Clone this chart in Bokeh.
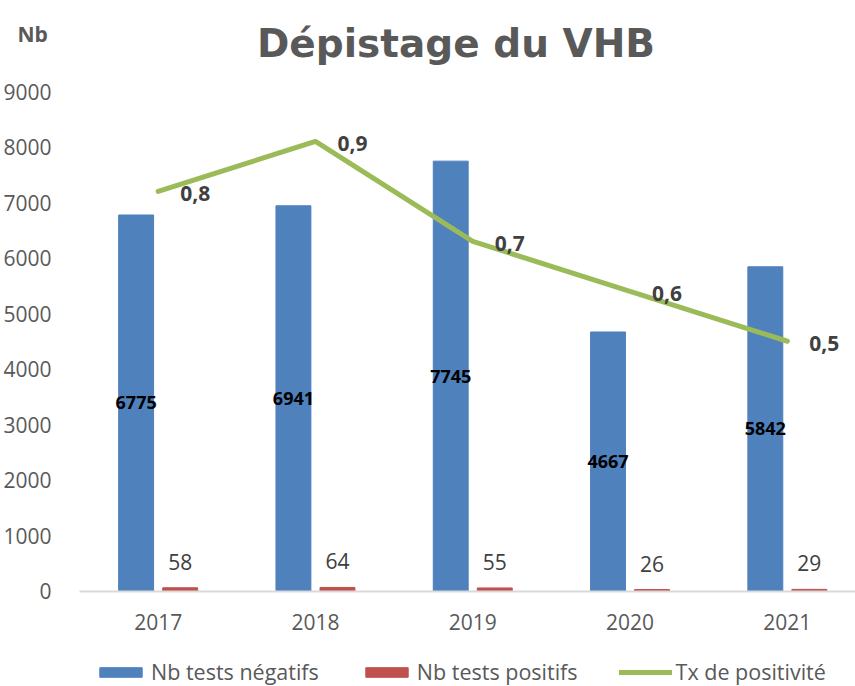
from bokeh.plotting import figure
from bokeh.models import (Range1d, FixedTicker, Label, Legend, LegendItem,
                          ColumnDataSource)
from bokeh.transform import dodge
from bokeh.core.properties import value
from bokeh.embed import file_html
from bokeh.resources import INLINE

# ---------------- data ----------------
years = ["2017", "2018", "2019", "2020", "2021"]
negatifs = [6775, 6941, 7745, 4667, 5842]
positifs = [58, 64, 55, 26, 29]
taux = [0.8, 0.9, 0.7, 0.6, 0.5]
taux_labels = ["0,8", "0,9", "0,7", "0,6", "0,5"]
y_ticks = [0, 1000, 2000, 3000, 4000, 5000, 6000, 7000, 8000, 9000]

# ---------------- layout constants (page pixels) ----------------
W, H = 855, 686
PLOT_LEFT = 79            # left edge of the category area
CAT = 157.3               # px per category
Y0_PX = 590.5             # page y of value 0
Y9_PX = 91                # page y of value 9000
YMAX = 9000
PPU = (Y0_PX - Y9_PX) / YMAX

x_start = -0.5 - PLOT_LEFT / CAT
x_end = -0.5 + (W - PLOT_LEFT) / CAT
y_start = -(H - Y0_PX) / PPU
y_end = Y0_PX / PPU

def xd(page_x):
    return -0.5 + (page_x - PLOT_LEFT) / CAT

def yd(page_y):
    return (Y0_PX - page_y) / PPU

FONT = "Open Sans"
GREY = "#595959"
DARK = "#404040"

src = ColumnDataSource(dict(
    idx=list(range(len(years))),
    neg=negatifs,
    neg_mid=[v / 2 for v in negatifs],
    neg_lbl=[str(v) for v in negatifs],
    pos=positifs,
    pos_lbl=[str(v) for v in positifs],
    taux=taux,
    taux_lbl=taux_labels,
))

p = figure(width=W, height=H, output_backend="svg", toolbar_location=None,
           x_range=Range1d(x_start, x_end), y_range=Range1d(y_start, y_end),
           min_border_left=0, min_border_right=0, min_border_top=0,
           min_border_bottom=0, outline_line_color=None, title=None,
           background_fill_color="white", border_fill_color="white")
p.extra_y_ranges = {"taux": Range1d(y_start / YMAX, y_end / YMAX)}
p.xgrid.visible = False
p.ygrid.visible = False

# x axis (drawn at value 0)
xa = p.xaxis[0]
xa.fixed_location = 0
xa.bounds = (-0.5, x_end)
xa.ticker = FixedTicker(ticks=list(range(len(years))))
xa.major_label_overrides = {i: y for i, y in enumerate(years)}
xa.axis_line_color = "#D9D9D9"
xa.axis_line_width = 2
xa.major_tick_line_color = None
xa.minor_tick_line_color = None
xa.major_label_text_font = FONT
xa.major_label_text_font_size = "21px"
xa.major_label_text_color = GREY
xa.major_label_standoff = 17

# y axis (drawn at left edge of the category area)
ya = p.yaxis[0]
ya.fixed_location = -0.5
ya.ticker = FixedTicker(ticks=y_ticks)
ya.axis_line_color = None
ya.major_tick_line_color = None
ya.minor_tick_line_color = None
ya.major_label_text_font = FONT
ya.major_label_text_font_size = "21px"
ya.major_label_text_color = GREY
ya.major_label_standoff = 22

OFF = 0.14
BW = 0.222

r_neg = p.vbar(x=dodge("idx", -OFF, range=p.x_range), top="neg", width=BW,
               source=src, fill_color="#4F81BD", line_color="#4F81BD")
r_pos = p.vbar(x=dodge("idx", OFF, range=p.x_range), top="pos", width=BW,
               source=src, fill_color="#C0504D", line_color="#C0504D")
r_line = p.line(x="idx", y="taux", source=src, y_range_name="taux",
                line_color="#9BBB59", line_width=5, line_join="round",
                line_cap="round")

# bar labels
p.text(x=dodge("idx", -OFF, range=p.x_range), y="neg_mid", text="neg_lbl",
       source=src, text_align="center", text_baseline="middle",
       text_font=value(FONT), text_font_style="bold", text_font_size="18px",
       text_color="black")
p.text(x=dodge("idx", OFF, range=p.x_range), y="pos", text="pos_lbl",
       source=src, text_align="center", text_baseline="middle", y_offset=-26,
       text_font=value(FONT), text_font_size="21px", text_color=DARK)
# line labels
p.text(x="idx", y="taux", text="taux_lbl", source=src, y_range_name="taux",
       x_offset=22, y_offset=2, text_align="left", text_baseline="middle",
       text_font=value(FONT), text_font_style="bold", text_font_size="21px",
       text_color=DARK)

# title and axis caption
p.add_layout(Label(x=xd(455.5), y=yd(43), text="Dépistage du VHB",
                   text_align="center", text_baseline="alphabetic",
                   text_font="DejaVu Sans", text_font_style="bold",
                   text_font_size="39px", text_color=GREY))
p.add_layout(Label(x=xd(17), y=yd(33), text="Nb", text_align="left",
                   text_baseline="alphabetic", text_font=FONT,
                   text_font_style="bold", text_font_size="21px",
                   text_color=GREY))

legend = Legend(items=[
    LegendItem(label="Nb tests négatifs", renderers=[r_neg]),
    LegendItem(label="Nb tests positifs", renderers=[r_pos]),
    LegendItem(label="Tx de positivité", renderers=[r_line]),
], orientation="horizontal", location=(94, 0), padding=0, margin=0,
    spacing=41, glyph_width=53, glyph_height=12, label_standoff=4,
    label_text_font=FONT, label_text_font_size="21.5px",
    label_text_color=GREY, border_line_color=None,
    background_fill_alpha=0)
p.add_layout(legend)

open("out.html", "w").write(file_html(p, INLINE))
